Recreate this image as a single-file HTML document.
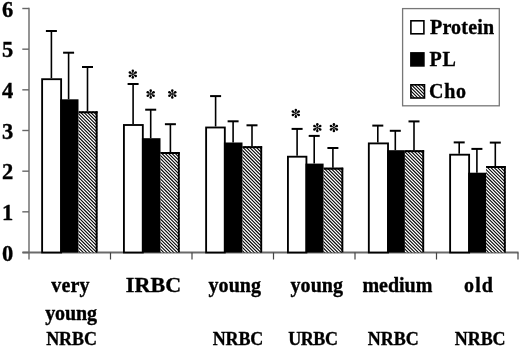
<!DOCTYPE html>
<html><head><meta charset="utf-8"><style>
html,body{margin:0;padding:0;background:#fff;width:520px;height:348px;overflow:hidden}
svg{display:block;will-change:transform}
text{font-family:"Liberation Serif",serif;font-weight:bold;fill:#000;stroke:#000;stroke-width:0.35px}
</style></head><body>
<svg width="520" height="348" viewBox="0 0 520 348">
<rect width="520" height="348" fill="#fff"/>

<line x1="29.0" y1="7.8" x2="29.0" y2="259.5" stroke="#7a7a7a" stroke-width="1.6"/>
<line x1="22.5" y1="252.5" x2="518.5" y2="252.5" stroke="#6a6a6a" stroke-width="1.8"/>
<line x1="22.3" y1="252.50" x2="29.0" y2="252.50" stroke="#666" stroke-width="1.4"/>
<line x1="22.3" y1="211.83" x2="29.0" y2="211.83" stroke="#666" stroke-width="1.4"/>
<line x1="22.3" y1="171.17" x2="29.0" y2="171.17" stroke="#666" stroke-width="1.4"/>
<line x1="22.3" y1="130.50" x2="29.0" y2="130.50" stroke="#666" stroke-width="1.4"/>
<line x1="22.3" y1="89.83" x2="29.0" y2="89.83" stroke="#666" stroke-width="1.4"/>
<line x1="22.3" y1="49.17" x2="29.0" y2="49.17" stroke="#666" stroke-width="1.4"/>
<line x1="22.3" y1="8.50" x2="29.0" y2="8.50" stroke="#666" stroke-width="1.4"/>
<line x1="110.50" y1="252.5" x2="110.50" y2="259.5" stroke="#444" stroke-width="1.2"/>
<line x1="192.00" y1="252.5" x2="192.00" y2="259.5" stroke="#444" stroke-width="1.2"/>
<line x1="273.50" y1="252.5" x2="273.50" y2="259.5" stroke="#444" stroke-width="1.2"/>
<line x1="355.00" y1="252.5" x2="355.00" y2="259.5" stroke="#444" stroke-width="1.2"/>
<line x1="436.50" y1="252.5" x2="436.50" y2="259.5" stroke="#444" stroke-width="1.2"/>
<line x1="518.00" y1="252.5" x2="518.00" y2="259.5" stroke="#444" stroke-width="1.2"/>
<text x="13.3" y="260.50" font-size="22.5" text-anchor="end">0</text>
<text x="13.3" y="219.83" font-size="22.5" text-anchor="end">1</text>
<text x="13.3" y="179.17" font-size="22.5" text-anchor="end">2</text>
<text x="13.3" y="138.50" font-size="22.5" text-anchor="end">3</text>
<text x="13.3" y="97.83" font-size="22.5" text-anchor="end">4</text>
<text x="13.3" y="57.17" font-size="22.5" text-anchor="end">5</text>
<text x="13.3" y="16.50" font-size="22.5" text-anchor="end">6</text>
<rect x="42.12" y="79.20" width="19.00" height="173.30" fill="#fff" stroke="#000" stroke-width="1.85"/>
<rect x="60.20" y="99.30" width="18.30" height="153.20" fill="#000"/>
<clipPath id="c1"><rect x="78.50" y="111.30" width="19.00" height="141.20"/></clipPath>
<rect x="78.50" y="111.30" width="19.00" height="141.20" fill="#000"/>
<path clip-path="url(#c1)" d="M76.50 86.55L99.50 109.55M76.50 89.90L99.50 112.90M76.50 93.25L99.50 116.25M76.50 96.60L99.50 119.60M76.50 99.95L99.50 122.95M76.50 103.30L99.50 126.30M76.50 106.65L99.50 129.65M76.50 110.00L99.50 133.00M76.50 113.35L99.50 136.35M76.50 116.70L99.50 139.70M76.50 120.05L99.50 143.05M76.50 123.40L99.50 146.40M76.50 126.75L99.50 149.75M76.50 130.10L99.50 153.10M76.50 133.45L99.50 156.45M76.50 136.80L99.50 159.80M76.50 140.15L99.50 163.15M76.50 143.50L99.50 166.50M76.50 146.85L99.50 169.85M76.50 150.20L99.50 173.20M76.50 153.55L99.50 176.55M76.50 156.90L99.50 179.90M76.50 160.25L99.50 183.25M76.50 163.60L99.50 186.60M76.50 166.95L99.50 189.95M76.50 170.30L99.50 193.30M76.50 173.65L99.50 196.65M76.50 177.00L99.50 200.00M76.50 180.35L99.50 203.35M76.50 183.70L99.50 206.70M76.50 187.05L99.50 210.05M76.50 190.40L99.50 213.40M76.50 193.75L99.50 216.75M76.50 197.10L99.50 220.10M76.50 200.45L99.50 223.45M76.50 203.80L99.50 226.80M76.50 207.15L99.50 230.15M76.50 210.50L99.50 233.50M76.50 213.85L99.50 236.85M76.50 217.20L99.50 240.20M76.50 220.55L99.50 243.55M76.50 223.90L99.50 246.90M76.50 227.25L99.50 250.25M76.50 230.60L99.50 253.60M76.50 233.95L99.50 256.95M76.50 237.30L99.50 260.30M76.50 240.65L99.50 263.65M76.50 244.00L99.50 267.00M76.50 247.35L99.50 270.35M76.50 250.70L99.50 273.70" stroke="#fff" stroke-width="1.3" fill="none"/>
<rect x="78.50" y="111.30" width="19.00" height="2"/>
<rect x="95.65" y="111.30" width="1.85" height="141.20"/>
<rect x="123.92" y="125.00" width="18.90" height="127.50" fill="#fff" stroke="#000" stroke-width="1.85"/>
<rect x="141.90" y="138.20" width="18.60" height="114.30" fill="#000"/>
<clipPath id="c2"><rect x="160.50" y="152.00" width="19.20" height="100.50"/></clipPath>
<rect x="160.50" y="152.00" width="19.20" height="100.50" fill="#000"/>
<path clip-path="url(#c2)" d="M158.50 125.00L181.70 148.20M158.50 128.35L181.70 151.55M158.50 131.70L181.70 154.90M158.50 135.05L181.70 158.25M158.50 138.40L181.70 161.60M158.50 141.75L181.70 164.95M158.50 145.10L181.70 168.30M158.50 148.45L181.70 171.65M158.50 151.80L181.70 175.00M158.50 155.15L181.70 178.35M158.50 158.50L181.70 181.70M158.50 161.85L181.70 185.05M158.50 165.20L181.70 188.40M158.50 168.55L181.70 191.75M158.50 171.90L181.70 195.10M158.50 175.25L181.70 198.45M158.50 178.60L181.70 201.80M158.50 181.95L181.70 205.15M158.50 185.30L181.70 208.50M158.50 188.65L181.70 211.85M158.50 192.00L181.70 215.20M158.50 195.35L181.70 218.55M158.50 198.70L181.70 221.90M158.50 202.05L181.70 225.25M158.50 205.40L181.70 228.60M158.50 208.75L181.70 231.95M158.50 212.10L181.70 235.30M158.50 215.45L181.70 238.65M158.50 218.80L181.70 242.00M158.50 222.15L181.70 245.35M158.50 225.50L181.70 248.70M158.50 228.85L181.70 252.05M158.50 232.20L181.70 255.40M158.50 235.55L181.70 258.75M158.50 238.90L181.70 262.10M158.50 242.25L181.70 265.45M158.50 245.60L181.70 268.80M158.50 248.95L181.70 272.15M158.50 252.30L181.70 275.50" stroke="#fff" stroke-width="1.3" fill="none"/>
<rect x="160.50" y="152.00" width="19.20" height="2"/>
<rect x="177.85" y="152.00" width="1.85" height="100.50"/>
<rect x="206.12" y="127.50" width="18.70" height="125.00" fill="#fff" stroke="#000" stroke-width="1.85"/>
<rect x="223.90" y="142.50" width="18.60" height="110.00" fill="#000"/>
<clipPath id="c3"><rect x="242.50" y="146.20" width="19.60" height="106.30"/></clipPath>
<rect x="242.50" y="146.20" width="19.60" height="106.30" fill="#000"/>
<path clip-path="url(#c3)" d="M240.50 119.90L264.10 143.50M240.50 123.25L264.10 146.85M240.50 126.60L264.10 150.20M240.50 129.95L264.10 153.55M240.50 133.30L264.10 156.90M240.50 136.65L264.10 160.25M240.50 140.00L264.10 163.60M240.50 143.35L264.10 166.95M240.50 146.70L264.10 170.30M240.50 150.05L264.10 173.65M240.50 153.40L264.10 177.00M240.50 156.75L264.10 180.35M240.50 160.10L264.10 183.70M240.50 163.45L264.10 187.05M240.50 166.80L264.10 190.40M240.50 170.15L264.10 193.75M240.50 173.50L264.10 197.10M240.50 176.85L264.10 200.45M240.50 180.20L264.10 203.80M240.50 183.55L264.10 207.15M240.50 186.90L264.10 210.50M240.50 190.25L264.10 213.85M240.50 193.60L264.10 217.20M240.50 196.95L264.10 220.55M240.50 200.30L264.10 223.90M240.50 203.65L264.10 227.25M240.50 207.00L264.10 230.60M240.50 210.35L264.10 233.95M240.50 213.70L264.10 237.30M240.50 217.05L264.10 240.65M240.50 220.40L264.10 244.00M240.50 223.75L264.10 247.35M240.50 227.10L264.10 250.70M240.50 230.45L264.10 254.05M240.50 233.80L264.10 257.40M240.50 237.15L264.10 260.75M240.50 240.50L264.10 264.10M240.50 243.85L264.10 267.45M240.50 247.20L264.10 270.80M240.50 250.55L264.10 274.15" stroke="#fff" stroke-width="1.3" fill="none"/>
<rect x="242.50" y="146.20" width="19.60" height="2"/>
<rect x="260.25" y="146.20" width="1.85" height="106.30"/>
<rect x="287.93" y="156.70" width="18.50" height="95.80" fill="#fff" stroke="#000" stroke-width="1.85"/>
<rect x="305.50" y="163.60" width="18.10" height="88.90" fill="#000"/>
<clipPath id="c4"><rect x="323.60" y="167.70" width="19.60" height="84.80"/></clipPath>
<rect x="323.60" y="167.70" width="19.60" height="84.80" fill="#000"/>
<path clip-path="url(#c4)" d="M321.60 140.70L345.20 164.30M321.60 144.05L345.20 167.65M321.60 147.40L345.20 171.00M321.60 150.75L345.20 174.35M321.60 154.10L345.20 177.70M321.60 157.45L345.20 181.05M321.60 160.80L345.20 184.40M321.60 164.15L345.20 187.75M321.60 167.50L345.20 191.10M321.60 170.85L345.20 194.45M321.60 174.20L345.20 197.80M321.60 177.55L345.20 201.15M321.60 180.90L345.20 204.50M321.60 184.25L345.20 207.85M321.60 187.60L345.20 211.20M321.60 190.95L345.20 214.55M321.60 194.30L345.20 217.90M321.60 197.65L345.20 221.25M321.60 201.00L345.20 224.60M321.60 204.35L345.20 227.95M321.60 207.70L345.20 231.30M321.60 211.05L345.20 234.65M321.60 214.40L345.20 238.00M321.60 217.75L345.20 241.35M321.60 221.10L345.20 244.70M321.60 224.45L345.20 248.05M321.60 227.80L345.20 251.40M321.60 231.15L345.20 254.75M321.60 234.50L345.20 258.10M321.60 237.85L345.20 261.45M321.60 241.20L345.20 264.80M321.60 244.55L345.20 268.15M321.60 247.90L345.20 271.50M321.60 251.25L345.20 274.85" stroke="#fff" stroke-width="1.3" fill="none"/>
<rect x="323.60" y="167.70" width="19.60" height="2"/>
<rect x="341.35" y="167.70" width="1.85" height="84.80"/>
<rect x="368.82" y="143.40" width="19.20" height="109.10" fill="#fff" stroke="#000" stroke-width="1.85"/>
<rect x="387.10" y="150.20" width="17.80" height="102.30" fill="#000"/>
<clipPath id="c5"><rect x="404.90" y="150.20" width="19.20" height="102.30"/></clipPath>
<rect x="404.90" y="150.20" width="19.20" height="102.30" fill="#000"/>
<path clip-path="url(#c5)" d="M402.90 124.85L426.10 148.05M402.90 128.20L426.10 151.40M402.90 131.55L426.10 154.75M402.90 134.90L426.10 158.10M402.90 138.25L426.10 161.45M402.90 141.60L426.10 164.80M402.90 144.95L426.10 168.15M402.90 148.30L426.10 171.50M402.90 151.65L426.10 174.85M402.90 155.00L426.10 178.20M402.90 158.35L426.10 181.55M402.90 161.70L426.10 184.90M402.90 165.05L426.10 188.25M402.90 168.40L426.10 191.60M402.90 171.75L426.10 194.95M402.90 175.10L426.10 198.30M402.90 178.45L426.10 201.65M402.90 181.80L426.10 205.00M402.90 185.15L426.10 208.35M402.90 188.50L426.10 211.70M402.90 191.85L426.10 215.05M402.90 195.20L426.10 218.40M402.90 198.55L426.10 221.75M402.90 201.90L426.10 225.10M402.90 205.25L426.10 228.45M402.90 208.60L426.10 231.80M402.90 211.95L426.10 235.15M402.90 215.30L426.10 238.50M402.90 218.65L426.10 241.85M402.90 222.00L426.10 245.20M402.90 225.35L426.10 248.55M402.90 228.70L426.10 251.90M402.90 232.05L426.10 255.25M402.90 235.40L426.10 258.60M402.90 238.75L426.10 261.95M402.90 242.10L426.10 265.30M402.90 245.45L426.10 268.65M402.90 248.80L426.10 272.00M402.90 252.15L426.10 275.35" stroke="#fff" stroke-width="1.3" fill="none"/>
<rect x="404.90" y="150.20" width="19.20" height="2"/>
<rect x="422.25" y="150.20" width="1.85" height="102.30"/>
<rect x="450.12" y="154.70" width="19.00" height="97.80" fill="#fff" stroke="#000" stroke-width="1.85"/>
<rect x="468.20" y="172.70" width="17.90" height="79.80" fill="#000"/>
<clipPath id="c6"><rect x="486.10" y="166.00" width="19.60" height="86.50"/></clipPath>
<rect x="486.10" y="166.00" width="19.60" height="86.50" fill="#000"/>
<path clip-path="url(#c6)" d="M484.10 139.05L507.70 162.65M484.10 142.40L507.70 166.00M484.10 145.75L507.70 169.35M484.10 149.10L507.70 172.70M484.10 152.45L507.70 176.05M484.10 155.80L507.70 179.40M484.10 159.15L507.70 182.75M484.10 162.50L507.70 186.10M484.10 165.85L507.70 189.45M484.10 169.20L507.70 192.80M484.10 172.55L507.70 196.15M484.10 175.90L507.70 199.50M484.10 179.25L507.70 202.85M484.10 182.60L507.70 206.20M484.10 185.95L507.70 209.55M484.10 189.30L507.70 212.90M484.10 192.65L507.70 216.25M484.10 196.00L507.70 219.60M484.10 199.35L507.70 222.95M484.10 202.70L507.70 226.30M484.10 206.05L507.70 229.65M484.10 209.40L507.70 233.00M484.10 212.75L507.70 236.35M484.10 216.10L507.70 239.70M484.10 219.45L507.70 243.05M484.10 222.80L507.70 246.40M484.10 226.15L507.70 249.75M484.10 229.50L507.70 253.10M484.10 232.85L507.70 256.45M484.10 236.20L507.70 259.80M484.10 239.55L507.70 263.15M484.10 242.90L507.70 266.50M484.10 246.25L507.70 269.85M484.10 249.60L507.70 273.20M484.10 252.95L507.70 276.55" stroke="#fff" stroke-width="1.3" fill="none"/>
<rect x="486.10" y="166.00" width="19.60" height="2"/>
<rect x="503.85" y="166.00" width="1.85" height="86.50"/>
<line x1="51.40" y1="78.20" x2="51.40" y2="31.00" stroke="#000" stroke-width="1.6"/>
<line x1="45.90" y1="31.00" x2="56.90" y2="31.00" stroke="#000" stroke-width="2"/>
<line x1="68.60" y1="99.30" x2="68.60" y2="52.70" stroke="#000" stroke-width="1.6"/>
<line x1="63.10" y1="52.70" x2="74.10" y2="52.70" stroke="#000" stroke-width="2"/>
<line x1="87.50" y1="111.30" x2="87.50" y2="67.00" stroke="#000" stroke-width="1.6"/>
<line x1="82.00" y1="67.00" x2="93.00" y2="67.00" stroke="#000" stroke-width="2"/>
<line x1="133.10" y1="124.00" x2="133.10" y2="84.00" stroke="#000" stroke-width="1.6"/>
<line x1="127.60" y1="84.00" x2="138.60" y2="84.00" stroke="#000" stroke-width="2"/>
<line x1="150.70" y1="138.20" x2="150.70" y2="109.70" stroke="#000" stroke-width="1.6"/>
<line x1="145.20" y1="109.70" x2="156.20" y2="109.70" stroke="#000" stroke-width="2"/>
<line x1="170.40" y1="152.00" x2="170.40" y2="124.20" stroke="#000" stroke-width="1.6"/>
<line x1="164.90" y1="124.20" x2="175.90" y2="124.20" stroke="#000" stroke-width="2"/>
<line x1="215.60" y1="126.50" x2="215.60" y2="96.10" stroke="#000" stroke-width="1.6"/>
<line x1="210.10" y1="96.10" x2="221.10" y2="96.10" stroke="#000" stroke-width="2"/>
<line x1="233.10" y1="142.50" x2="233.10" y2="121.30" stroke="#000" stroke-width="1.6"/>
<line x1="227.60" y1="121.30" x2="238.60" y2="121.30" stroke="#000" stroke-width="2"/>
<line x1="252.00" y1="146.20" x2="252.00" y2="125.30" stroke="#000" stroke-width="1.6"/>
<line x1="246.50" y1="125.30" x2="257.50" y2="125.30" stroke="#000" stroke-width="2"/>
<line x1="297.10" y1="155.70" x2="297.10" y2="128.90" stroke="#000" stroke-width="1.6"/>
<line x1="291.60" y1="128.90" x2="302.60" y2="128.90" stroke="#000" stroke-width="2"/>
<line x1="314.20" y1="163.60" x2="314.20" y2="135.90" stroke="#000" stroke-width="1.6"/>
<line x1="308.70" y1="135.90" x2="319.70" y2="135.90" stroke="#000" stroke-width="2"/>
<line x1="332.90" y1="167.70" x2="332.90" y2="148.00" stroke="#000" stroke-width="1.6"/>
<line x1="327.40" y1="148.00" x2="338.40" y2="148.00" stroke="#000" stroke-width="2"/>
<line x1="377.80" y1="142.40" x2="377.80" y2="125.60" stroke="#000" stroke-width="1.6"/>
<line x1="372.30" y1="125.60" x2="383.30" y2="125.60" stroke="#000" stroke-width="2"/>
<line x1="395.30" y1="150.20" x2="395.30" y2="130.80" stroke="#000" stroke-width="1.6"/>
<line x1="389.80" y1="130.80" x2="400.80" y2="130.80" stroke="#000" stroke-width="2"/>
<line x1="414.00" y1="150.20" x2="414.00" y2="121.40" stroke="#000" stroke-width="1.6"/>
<line x1="408.50" y1="121.40" x2="419.50" y2="121.40" stroke="#000" stroke-width="2"/>
<line x1="459.20" y1="153.70" x2="459.20" y2="142.40" stroke="#000" stroke-width="1.6"/>
<line x1="453.70" y1="142.40" x2="464.70" y2="142.40" stroke="#000" stroke-width="2"/>
<line x1="476.90" y1="172.70" x2="476.90" y2="148.90" stroke="#000" stroke-width="1.6"/>
<line x1="471.40" y1="148.90" x2="482.40" y2="148.90" stroke="#000" stroke-width="2"/>
<line x1="495.30" y1="166.00" x2="495.30" y2="142.60" stroke="#000" stroke-width="1.6"/>
<line x1="489.80" y1="142.60" x2="500.80" y2="142.60" stroke="#000" stroke-width="2"/>
<path d="M132.80 70.80L132.80 77.60M129.86 72.50L135.74 75.90M135.74 72.50L129.86 75.90" stroke="#000" stroke-width="0.75"/><circle cx="132.80" cy="70.80" r="1.25"/><circle cx="132.80" cy="72.00" r="0.8"/><circle cx="129.86" cy="72.50" r="1.25"/><circle cx="130.89" cy="73.10" r="0.8"/><circle cx="129.86" cy="75.90" r="1.25"/><circle cx="130.89" cy="75.30" r="0.8"/><circle cx="132.80" cy="77.60" r="1.25"/><circle cx="132.80" cy="76.40" r="0.8"/><circle cx="135.74" cy="75.90" r="1.25"/><circle cx="134.71" cy="75.30" r="0.8"/><circle cx="135.74" cy="72.50" r="1.25"/><circle cx="134.71" cy="73.10" r="0.8"/>
<path d="M150.70 90.60L150.70 97.40M147.76 92.30L153.64 95.70M153.64 92.30L147.76 95.70" stroke="#000" stroke-width="0.75"/><circle cx="150.70" cy="90.60" r="1.25"/><circle cx="150.70" cy="91.80" r="0.8"/><circle cx="147.76" cy="92.30" r="1.25"/><circle cx="148.79" cy="92.90" r="0.8"/><circle cx="147.76" cy="95.70" r="1.25"/><circle cx="148.79" cy="95.10" r="0.8"/><circle cx="150.70" cy="97.40" r="1.25"/><circle cx="150.70" cy="96.20" r="0.8"/><circle cx="153.64" cy="95.70" r="1.25"/><circle cx="152.61" cy="95.10" r="0.8"/><circle cx="153.64" cy="92.30" r="1.25"/><circle cx="152.61" cy="92.90" r="0.8"/>
<path d="M172.30 90.60L172.30 97.40M169.36 92.30L175.24 95.70M175.24 92.30L169.36 95.70" stroke="#000" stroke-width="0.75"/><circle cx="172.30" cy="90.60" r="1.25"/><circle cx="172.30" cy="91.80" r="0.8"/><circle cx="169.36" cy="92.30" r="1.25"/><circle cx="170.39" cy="92.90" r="0.8"/><circle cx="169.36" cy="95.70" r="1.25"/><circle cx="170.39" cy="95.10" r="0.8"/><circle cx="172.30" cy="97.40" r="1.25"/><circle cx="172.30" cy="96.20" r="0.8"/><circle cx="175.24" cy="95.70" r="1.25"/><circle cx="174.21" cy="95.10" r="0.8"/><circle cx="175.24" cy="92.30" r="1.25"/><circle cx="174.21" cy="92.90" r="0.8"/>
<path d="M295.80 109.90L295.80 116.70M292.86 111.60L298.74 115.00M298.74 111.60L292.86 115.00" stroke="#000" stroke-width="0.75"/><circle cx="295.80" cy="109.90" r="1.25"/><circle cx="295.80" cy="111.10" r="0.8"/><circle cx="292.86" cy="111.60" r="1.25"/><circle cx="293.89" cy="112.20" r="0.8"/><circle cx="292.86" cy="115.00" r="1.25"/><circle cx="293.89" cy="114.40" r="0.8"/><circle cx="295.80" cy="116.70" r="1.25"/><circle cx="295.80" cy="115.50" r="0.8"/><circle cx="298.74" cy="115.00" r="1.25"/><circle cx="297.71" cy="114.40" r="0.8"/><circle cx="298.74" cy="111.60" r="1.25"/><circle cx="297.71" cy="112.20" r="0.8"/>
<path d="M317.30 124.30L317.30 131.10M314.36 126.00L320.24 129.40M320.24 126.00L314.36 129.40" stroke="#000" stroke-width="0.75"/><circle cx="317.30" cy="124.30" r="1.25"/><circle cx="317.30" cy="125.50" r="0.8"/><circle cx="314.36" cy="126.00" r="1.25"/><circle cx="315.39" cy="126.60" r="0.8"/><circle cx="314.36" cy="129.40" r="1.25"/><circle cx="315.39" cy="128.80" r="0.8"/><circle cx="317.30" cy="131.10" r="1.25"/><circle cx="317.30" cy="129.90" r="0.8"/><circle cx="320.24" cy="129.40" r="1.25"/><circle cx="319.21" cy="128.80" r="0.8"/><circle cx="320.24" cy="126.00" r="1.25"/><circle cx="319.21" cy="126.60" r="0.8"/>
<path d="M333.90 124.30L333.90 131.10M330.96 126.00L336.84 129.40M336.84 126.00L330.96 129.40" stroke="#000" stroke-width="0.75"/><circle cx="333.90" cy="124.30" r="1.25"/><circle cx="333.90" cy="125.50" r="0.8"/><circle cx="330.96" cy="126.00" r="1.25"/><circle cx="331.99" cy="126.60" r="0.8"/><circle cx="330.96" cy="129.40" r="1.25"/><circle cx="331.99" cy="128.80" r="0.8"/><circle cx="333.90" cy="131.10" r="1.25"/><circle cx="333.90" cy="129.90" r="0.8"/><circle cx="336.84" cy="129.40" r="1.25"/><circle cx="335.81" cy="128.80" r="0.8"/><circle cx="336.84" cy="126.00" r="1.25"/><circle cx="335.81" cy="126.60" r="0.8"/>
<rect x="402.6" y="8.6" width="96.7" height="97.2" fill="none" stroke="#777" stroke-width="1.3"/>
<rect x="410.9" y="20.8" width="13" height="13" fill="#fff" stroke="#000" stroke-width="1.6"/>
<rect x="410.9" y="52.9" width="13" height="13" fill="#000" stroke="#000" stroke-width="1.6"/>
<clipPath id="c7"><rect x="410.90" y="84.80" width="13.60" height="13.20"/></clipPath>
<rect x="410.90" y="84.80" width="13.60" height="13.20" fill="#000"/>
<path clip-path="url(#c7)" d="M408.90 63.85L426.50 81.45M408.90 67.20L426.50 84.80M408.90 70.55L426.50 88.15M408.90 73.90L426.50 91.50M408.90 77.25L426.50 94.85M408.90 80.60L426.50 98.20M408.90 83.95L426.50 101.55M408.90 87.30L426.50 104.90M408.90 90.65L426.50 108.25M408.90 94.00L426.50 111.60M408.90 97.35L426.50 114.95" stroke="#fff" stroke-width="1.3" fill="none"/>
<rect x="410.9" y="84.8" width="13.6" height="13.2" fill="none" stroke="#000" stroke-width="1.6"/>
<text x="51.30" y="292.4" font-size="20" textLength="38.27" lengthAdjust="spacing">very</text>
<text x="125.80" y="292.3" font-size="22" textLength="55.32" lengthAdjust="spacing">IRBC</text>
<text x="208.50" y="292.3" font-size="20" textLength="52.55" lengthAdjust="spacing">young</text>
<text x="290.50" y="292.3" font-size="20" textLength="52.55" lengthAdjust="spacing">young</text>
<text x="362.40" y="292.1" font-size="20" textLength="69.90" lengthAdjust="spacing">medium</text>
<text x="464.10" y="292.3" font-size="20" textLength="28.89" lengthAdjust="spacing">old</text>
<text x="45.20" y="320.0" font-size="20" textLength="51.85" lengthAdjust="spacing">young</text>
<text x="46.20" y="345.3" font-size="18" textLength="50.72" lengthAdjust="spacing">NRBC</text>
<text x="212.75" y="345.3" font-size="18" textLength="50.52" lengthAdjust="spacing">NRBC</text>
<text x="288.20" y="345.3" font-size="18" textLength="49.72" lengthAdjust="spacing">URBC</text>
<text x="367.70" y="345.3" font-size="18" textLength="51.12" lengthAdjust="spacing">NRBC</text>
<text x="454.80" y="345.3" font-size="18" textLength="50.82" lengthAdjust="spacing">NRBC</text>
<text x="430.00" y="33.9" font-size="20" textLength="64.15" lengthAdjust="spacing">Protein</text>
<text x="429.60" y="65.5" font-size="20" textLength="26.36" lengthAdjust="spacing">PL</text>
<text x="429.00" y="97.6" font-size="20" textLength="37.08" lengthAdjust="spacing">Cho</text>
</svg>
</body></html>
